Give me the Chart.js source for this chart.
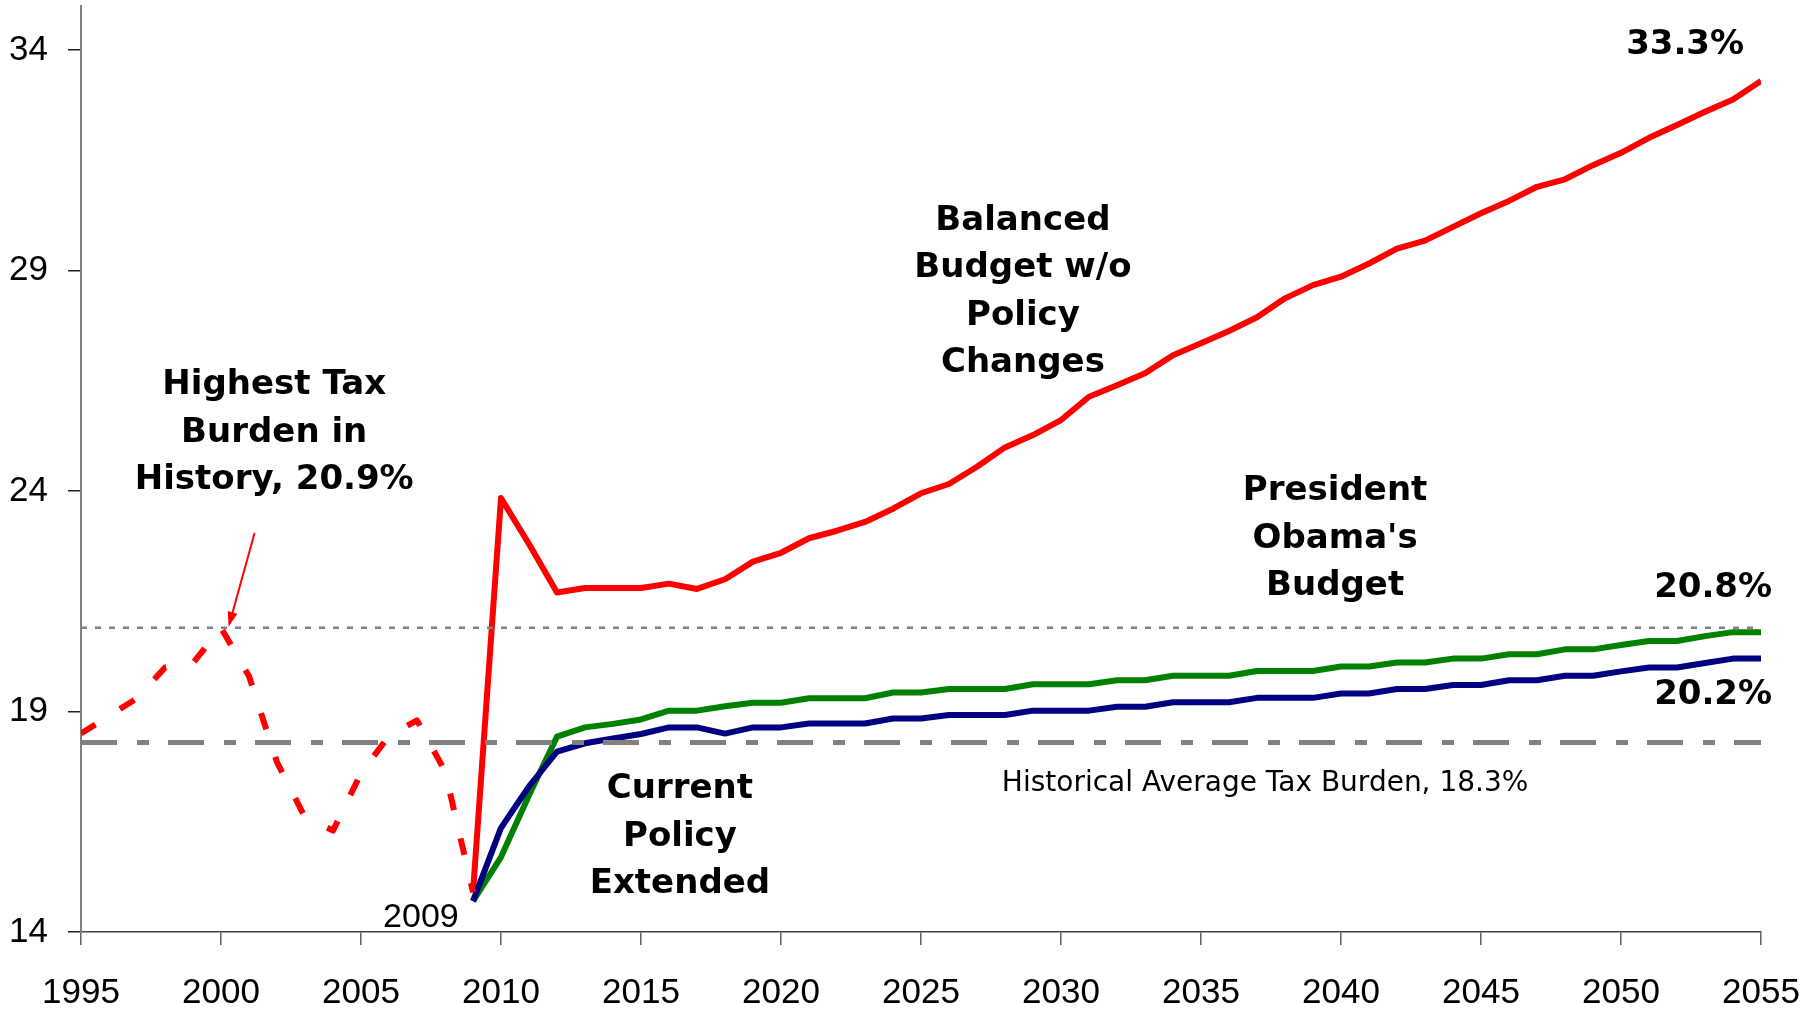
<!DOCTYPE html>
<html>
<head>
<meta charset="utf-8">
<script src="https://cdn.jsdelivr.net/npm/chart.js@4.4.1/dist/chart.umd.min.js"></script>
<style>
  html, body { margin: 0; padding: 0; background: #fff; }
  #wrap { width: 1817px; height: 1009px; position: relative; }
</style>
</head>
<body>
<div id="wrap"><canvas id="taxChart"></canvas></div>
<script>
// Federal tax burden, percent of GDP
const historyYears = [1995, 1996, 1997, 1998, 1999, 2000, 2001, 2002, 2003, 2004, 2005, 2006, 2007, 2008, 2009];
const historyBurden = [18.5, 18.9, 19.3, 20.0, 20.1, 20.9, 19.8, 17.85, 16.6, 16.3, 17.6, 18.45, 18.8, 17.65, 14.9];

const projYears = [2009, 2010, 2011, 2012, 2013, 2014, 2015, 2016, 2017, 2018, 2019, 2020, 2021, 2022, 2023, 2024,
  2025, 2026, 2027, 2028, 2029, 2030, 2031, 2032, 2033, 2034, 2035, 2036, 2037, 2038, 2039, 2040,
  2041, 2042, 2043, 2044, 2045, 2046, 2047, 2048, 2049, 2050, 2051, 2052, 2053, 2054, 2055];

const balancedBudget = [14.9, 23.84, 22.8, 21.7, 21.8, 21.8, 21.8, 21.9, 21.78, 22.0, 22.4, 22.6, 22.93, 23.1, 23.3, 23.6,
  23.95, 24.16, 24.55, 24.99, 25.27, 25.61, 26.14, 26.4, 26.67, 27.08, 27.35, 27.63, 27.94, 28.37, 28.67, 28.86,
  29.16, 29.5, 29.68, 29.99, 30.3, 30.58, 30.9, 31.07, 31.39, 31.67, 32.01, 32.3, 32.6, 32.88, 33.3];

const obamaBudget = [14.7, 15.7, 17.1, 18.43, 18.64, 18.72, 18.82, 19.02, 19.02, 19.12, 19.2, 19.2, 19.3, 19.3, 19.3, 19.43,
  19.43, 19.51, 19.51, 19.51, 19.62, 19.62, 19.62, 19.71, 19.71, 19.81, 19.81, 19.81, 19.92, 19.92, 19.92, 20.02,
  20.02, 20.11, 20.11, 20.2, 20.2, 20.3, 20.3, 20.41, 20.41, 20.51, 20.6, 20.6, 20.71, 20.8, 20.8];

const currentPolicy = [14.7, 16.36, 17.3, 18.09, 18.28, 18.39, 18.49, 18.64, 18.64, 18.5, 18.64, 18.64, 18.73, 18.73, 18.73, 18.84,
  18.84, 18.92, 18.92, 18.92, 19.02, 19.02, 19.02, 19.11, 19.11, 19.21, 19.21, 19.21, 19.31, 19.31, 19.31, 19.41,
  19.41, 19.51, 19.51, 19.6, 19.6, 19.71, 19.71, 19.81, 19.81, 19.91, 20.0, 20.0, 20.1, 20.2, 20.2];

const xTickYears = [1995, 2000, 2005, 2010, 2015, 2020, 2025, 2030, 2035, 2040, 2045, 2050, 2055];
const yTickValues = [14, 19, 24, 29, 34];

const historicalAverage = 18.3;
const highestBurden = 20.9;

const toPoints = (xs, ys) => xs.map((x, i) => ({ x: x, y: ys[i] }));
const last = arr => arr[arr.length - 1];
const pct = v => v.toFixed(1) + '%';
const firstYear = xTickYears[0];
const lastYear = last(xTickYears);

// text and arrow drawn on top of the lines, placed in data units
const notesPlugin = {
  id: 'notes',
  afterDatasetsDraw(chart, args, opts) {
    const { ctx } = chart;
    const xs = chart.scales.x, ys = chart.scales.y;
    ctx.save();

    // arrow to the 2000 peak
    const a = opts.arrow;
    const x0 = xs.getPixelForValue(a.from[0]), y0 = ys.getPixelForValue(a.from[1]);
    const x1 = xs.getPixelForValue(a.to[0]), y1 = ys.getPixelForValue(a.to[1]);
    const ang = Math.atan2(y1 - y0, x1 - x0);
    ctx.strokeStyle = '#ff0000';
    ctx.fillStyle = '#ff0000';
    ctx.lineWidth = 2;
    ctx.beginPath();
    ctx.moveTo(x0, y0);
    ctx.lineTo(x1 - 10 * Math.cos(ang), y1 - 10 * Math.sin(ang));
    ctx.stroke();
    ctx.beginPath();
    ctx.moveTo(x1, y1);
    ctx.lineTo(x1 - 15 * Math.cos(ang) + 5 * Math.sin(ang), y1 - 15 * Math.sin(ang) - 5 * Math.cos(ang));
    ctx.lineTo(x1 - 15 * Math.cos(ang) - 5 * Math.sin(ang), y1 - 15 * Math.sin(ang) + 5 * Math.cos(ang));
    ctx.closePath();
    ctx.fill();

    ctx.fillStyle = '#000';
    ctx.textAlign = 'center';
    ctx.textBaseline = 'middle';
    opts.labels.forEach(l => {
      ctx.font = l.font;
      const px = xs.getPixelForValue(l.x);
      const py = ys.getPixelForValue(l.y);
      l.lines.forEach((t, i) => ctx.fillText(t, px, py + i * 47.5));
    });
    ctx.restore();
  }
};

const boldFont = 'bold 34px "DejaVu Sans"';
const plainFont = '34px "Liberation Sans"';

const ctx = document.getElementById('taxChart').getContext('2d');

const taxChart = new Chart(ctx, {
  type: 'line',
  data: {
    datasets: [
      {
        label: 'Highest',
        data: toPoints([firstYear, lastYear], [highestBurden, highestBurden]),
        borderColor: '#808080',
        borderWidth: 2.5,
        borderDash: [6, 8]
      },
      {
        label: 'Historical Average',
        data: toPoints([firstYear, lastYear], [historicalAverage, historicalAverage]),
        borderColor: '#808080',
        borderWidth: 5,
        borderDash: [36, 20, 12, 19]
      },
      {
        label: 'History',
        data: toPoints(historyYears, historyBurden),
        borderColor: '#ff0000',
        borderWidth: 6,
        borderDash: [17, 29]
      },
      {
        label: 'Current Policy Extended',
        data: toPoints(projYears, currentPolicy),
        borderColor: '#000080',
        borderWidth: 6
      },
      {
        label: "President Obama's Budget",
        data: toPoints(projYears, obamaBudget),
        borderColor: '#008000',
        borderWidth: 6
      },
      {
        label: 'Balanced Budget w/o Policy Changes',
        data: toPoints(projYears, balancedBudget),
        borderColor: '#ff0000',
        borderWidth: 6
      }
    ]
  },
  options: {
    responsive: true,
    maintainAspectRatio: false,
    animation: false,
    layout: { padding: { top: 6, right: 56, left: 0, bottom: 0 } },
    elements: {
      point: { radius: 0 },
      line: { tension: 0, fill: false, borderJoinStyle: 'round' }
    },
    plugins: {
      legend: { display: false },
      tooltip: { enabled: false },
      notes: {
        arrow: { from: [2001.2, 23.05], to: [2000.27, 20.92] },
        labels: [
          { x: 2001.9, y: 26.39, font: boldFont, lines: ['Highest Tax', 'Burden in', 'History, ' + pct(highestBurden)] },
          { x: 2028.64, y: 30.13, font: boldFont, lines: ['Balanced', 'Budget w/o', 'Policy', 'Changes'] },
          { x: 2039.79, y: 23.99, font: boldFont, lines: ['President', "Obama's", 'Budget'] },
          { x: 2016.39, y: 17.23, font: boldFont, lines: ['Current', 'Policy', 'Extended'] },
          { x: 2052.29, y: 34.12, font: boldFont, lines: [pct(last(balancedBudget))] },
          { x: 2053.29, y: 21.79, font: boldFont, lines: [pct(last(obamaBudget))] },
          { x: 2053.29, y: 19.37, font: boldFont, lines: [pct(last(currentPolicy))] },
          { x: 2007.14, y: 14.33, font: plainFont, lines: [String(last(historyYears))] },
          { x: 2037.29, y: 17.36, font: '28px "DejaVu Sans"', lines: ['Historical Average Tax Burden, ' + pct(historicalAverage)] }
        ]
      }
    },
    scales: {
      x: {
        type: 'linear',
        min: firstYear,
        max: lastYear,
        afterBuildTicks: s => { s.ticks = xTickYears.map(v => ({ value: v })); },
        afterFit: s => { s.height = 77; s.paddingLeft = 0; s.paddingRight = 0; },
        grid: { drawOnChartArea: false, drawTicks: true, tickLength: 13, color: '#606060', lineWidth: 1.5 },
        border: { display: true, color: '#404040', width: 1.5 },
        ticks: {
          color: '#000',
          padding: 27,
          maxRotation: 0,
          font: { family: 'Liberation Sans', size: 35 },
          callback: v => String(v)
        }
      },
      y: {
        min: 14,
        max: 35,
        afterBuildTicks: s => { s.ticks = yTickValues.map(v => ({ value: v })); },
        afterFit: s => { s.width = 81; s.paddingTop = 0; s.paddingBottom = 0; },
        grid: { drawOnChartArea: false, drawTicks: true, tickLength: 13, color: '#202020', lineWidth: 1.5 },
        border: { display: true, color: '#808080', width: 2 },
        ticks: {
          color: '#000',
          padding: 20,
          font: { family: 'Liberation Sans', size: 35 },
          callback: v => String(v)
        }
      }
    }
  },
  plugins: [notesPlugin]
});
</script>
</body>
</html>
